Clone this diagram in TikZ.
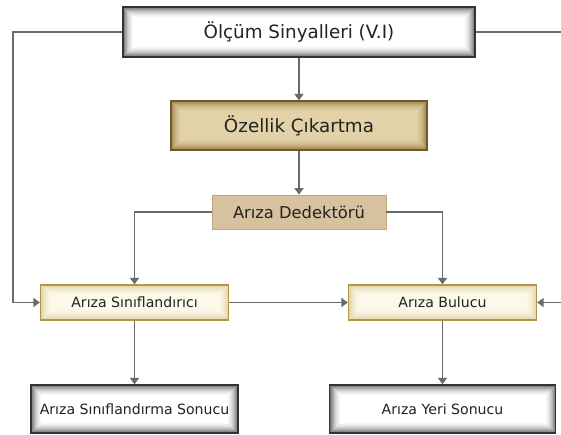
\documentclass[tikz,border=0pt]{standalone}
\usepackage{fontspec}
\setmainfont{DejaVu Sans}
\usetikzlibrary{arrows.meta}

\definecolor{linegray}{HTML}{6A6A6A}
\definecolor{txt}{HTML}{222222}
\definecolor{goldfill}{HTML}{E2D2A8}
\definecolor{goldedge}{HTML}{9C7E42}
\definecolor{goldborder}{HTML}{6E5A2A}
\definecolor{tanfill}{HTML}{D6C29E}
\definecolor{tanborder}{HTML}{BFA77C}
\definecolor{creamfill}{HTML}{FCF8EA}
\definecolor{creamedge}{HTML}{DCCB98}
\definecolor{creamborder}{HTML}{B09648}

% inner glow drawn as nested frames, from dark at the rim to light inside
\newcommand{\innerglow}[2]{%
  \foreach \i/\o in {1/1,2/0.85,3/0.7,4/0.56,5/0.44,6/0.33,7/0.24,8/0.16,9/0.1,10/0.05} {
    \draw[#1, opacity=\o*#2, line width=1pt]
      ([shift={(\i pt-0.5pt,\i pt-0.5pt)}]path picture bounding box.south west)
      rectangle
      ([shift={(-\i pt+0.5pt,-\i pt+0.5pt)}]path picture bounding box.north east);
  }%
}

\tikzset{
  x=1pt, y=-1pt,
  box/.style={rectangle, inner sep=0pt, anchor=center, text=txt},
  graybox/.style={box, fill=white, draw=black!80, line width=1.4pt,
    path picture={\innerglow{black!55}{1}}},
  goldbox/.style={box, fill=goldfill, draw=goldborder, line width=1.2pt,
    path picture={\innerglow{goldedge}{0.9}}},
  tanbox/.style={box, fill=tanfill, draw=tanborder, line width=0.8pt},
  creambox/.style={box, fill=creamfill, draw=creamborder, line width=1.3pt,
    path picture={\innerglow{creamedge}{0.8}}},
  link/.style={draw=linegray, line width=1.8pt},
  arrow/.style={link, -{Triangle[length=6.5pt,width=9pt]}},
}

\begin{document}
\begin{tikzpicture}
\useasboundingbox (0,0) rectangle (561,435);

% blocks
\node[graybox, minimum width=352pt, minimum height=50pt,
      font=\fontsize{18.3}{20}\selectfont] (meas) at (299,32) {Ölçüm Sinyalleri (V.I)};
\node[goldbox, minimum width=256pt, minimum height=49pt,
      font=\fontsize{18.3}{20}\selectfont] (feat) at (299,125.5) {Özellik Çıkartma};
\node[tanbox, minimum width=174pt, minimum height=34pt,
      font=\fontsize{16.3}{18}\selectfont] (det) at (299,212) {Arıza Dedektörü};
\node[creambox, minimum width=188pt, minimum height=35pt,
      font=\fontsize{14.1}{16}\selectfont] (cls) at (134.5,302.5) {Arıza Sınıflandırıcı};
\node[creambox, minimum width=188pt, minimum height=35pt,
      font=\fontsize{14.1}{16}\selectfont] (loc) at (442.5,302.5) {Arıza Bulucu};
\node[graybox, minimum width=207pt, minimum height=48pt,
      font=\fontsize{14.1}{16}\selectfont] (clsres) at (134.5,409) {Arıza Sınıflandırma Sonucu};
\node[graybox, minimum width=226pt, minimum height=48pt,
      font=\fontsize{14.1}{16}\selectfont] (locres) at (442.5,409) {Arıza Yeri Sonucu};

% loose ends at the left and right margins
\coordinate (lrail) at (13,32);
\coordinate (rtop) at (561,32);
\coordinate (rbot) at (561,302.5);

% connectors
\draw[arrow] (meas) -- (feat);
\draw[arrow] (feat) -- (det);
\draw[arrow] (det.west) -| (cls.north);
\draw[arrow] (det.east) -| (loc.north);
\draw[arrow] (meas.west) -- (lrail) |- (cls.west);
\draw[link] (meas.east) -- (rtop);
\draw[arrow] (rbot) -- (loc.east);
\draw[arrow] (cls.east) -- (loc.west);
\draw[arrow] (cls.south) -- (clsres.north);
\draw[arrow] (loc.south) -- (locres.north);
\end{tikzpicture}
\end{document}
